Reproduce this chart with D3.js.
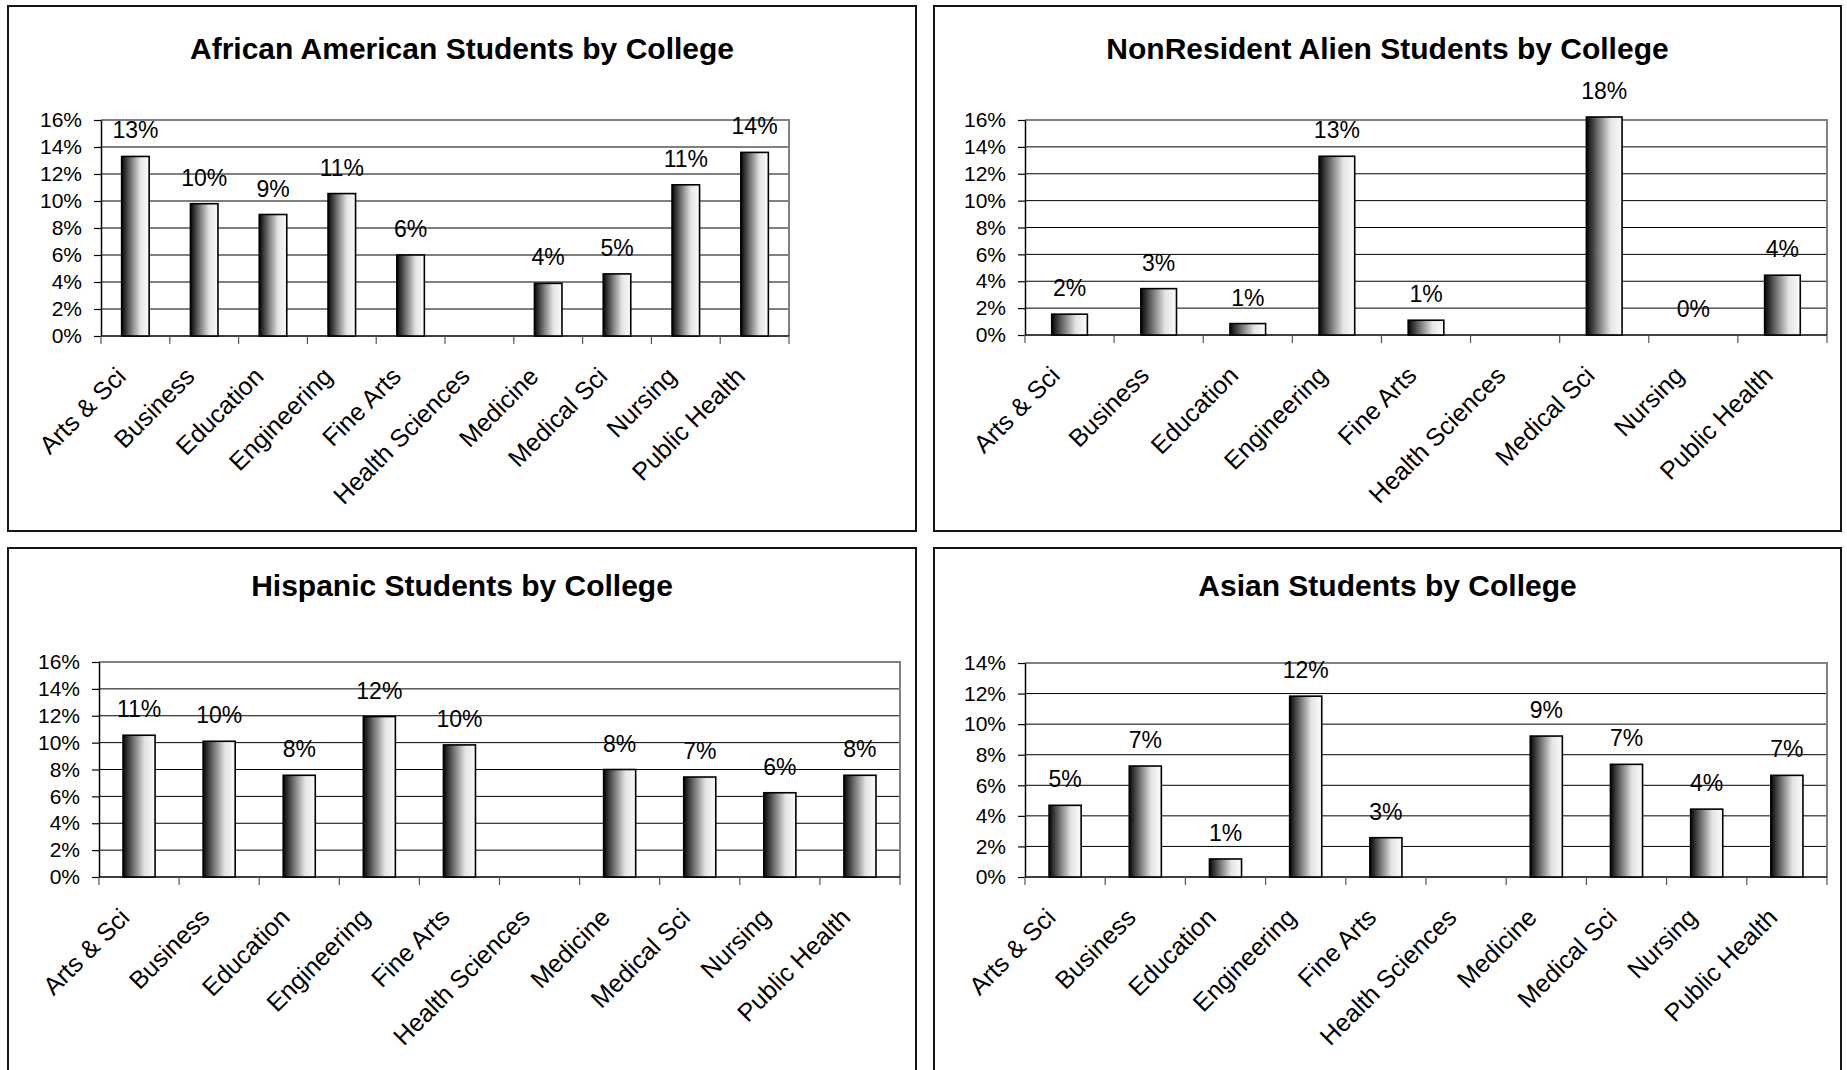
<!DOCTYPE html>
<html>
<head>
<meta charset="utf-8">
<script src="https://cdn.jsdelivr.net/npm/d3@7"></script>
<style>
  body { margin: 0; background: #fff; }
  svg { display: block; }
  text { font-family: "Liberation Sans", Arial, sans-serif; fill: #000; }
</style>
</head>
<body>
<svg id="chart" width="1847" height="1070"></svg>
<script>
'use strict'

// categories
const colleges = ['Arts & Sci', 'Business', 'Education', 'Engineering', 'Fine Arts',
  'Health Sciences', 'Medicine', 'Medical Sci', 'Nursing', 'Public Health']
const collegesNRA = ['Arts & Sci', 'Business', 'Education', 'Engineering', 'Fine Arts',
  'Health Sciences', 'Medical Sci', 'Nursing', 'Public Health']

// percent of students, null = no bar / no label
const africanAmerican = [13.3, 9.8, 9.0, 10.55, 6.0, null, 3.9, 4.6, 11.2, 13.6]
const nonResident = [1.55, 3.45, 0.85, 13.3, 1.1, null, 17.6, 0, 4.45]
const hispanic = [10.55, 10.1, 7.57, 11.94, 9.83, null, 8.0, 7.44, 6.27, 7.57]
const asian = [4.69, 7.26, 1.18, 11.83, 2.57, null, 9.22, 7.37, 4.44, 6.65]

// y tick labels
const ticks16 = [0, 2, 4, 6, 8, 10, 12, 14, 16]
const ticks14 = [0, 2, 4, 6, 8, 10, 12, 14]

const svg = d3.select('#chart')

const grad = svg.append('defs').append('linearGradient')
  .attr('id', 'barGrad')
  .attr('x1', 0).attr('x2', 1).attr('y1', 0).attr('y2', 0)
grad.append('stop').attr('offset', '0%').attr('stop-color', '#050505')
grad.append('stop').attr('offset', '35%').attr('stop-color', '#7a7a7a')
grad.append('stop').attr('offset', '68%').attr('stop-color', '#e4e4e4')
grad.append('stop').attr('offset', '100%').attr('stop-color', '#fbfbfb')

const charts = [
  { title: 'African American Students by College', cats: colleges, values: africanAmerican, ticks: ticks16,
    box: [8, 6, 908, 525], titleY: 59, plot: { left: 101, right: 789, top: 120, bottom: 336 } },
  { title: 'NonResident Alien Students by College', cats: collegesNRA, values: nonResident, ticks: ticks16,
    box: [934, 6, 907, 525], titleY: 59, plot: { left: 1025, right: 1827, top: 120, bottom: 335 } },
  { title: 'Hispanic Students by College', cats: colleges, values: hispanic, ticks: ticks16,
    box: [8, 548, 908, 540], titleY: 596, plot: { left: 99, right: 900, top: 662, bottom: 877 } },
  { title: 'Asian Students by College', cats: colleges, values: asian, ticks: ticks14,
    box: [934, 548, 907, 540], titleY: 596, plot: { left: 1025, right: 1827, top: 663, bottom: 877 } }
]

charts.forEach(drawChart)

function drawChart(cfg) {
  const p = cfg.plot
  const g = svg.append('g')

  g.append('rect')
    .attr('x', cfg.box[0]).attr('y', cfg.box[1])
    .attr('width', cfg.box[2]).attr('height', cfg.box[3])
    .attr('fill', '#fff')
    .attr('stroke', '#151515')
    .attr('stroke-width', 2)

  g.append('text')
    .attr('x', cfg.box[0] + cfg.box[2] / 2)
    .attr('y', cfg.titleY)
    .attr('text-anchor', 'middle')
    .attr('font-size', 30)
    .attr('font-weight', 'bold')
    .text(cfg.title)

  const maxTick = d3.max(cfg.ticks)

  const x = d3.scaleBand()
    .domain(cfg.cats)
    .range([p.left, p.right])
  const xBar = d3.scaleBand()
    .domain(cfg.cats)
    .range([p.left, p.right])
    .paddingInner(0.6)
    .paddingOuter(0.3)
  const y = d3.scaleLinear()
    .domain([0, maxTick])
    .range([p.bottom, p.top])

  // gridlines
  g.append('g').selectAll('line')
    .data(cfg.ticks.filter(t => t > 0 && t < maxTick))
    .enter().append('line')
    .attr('x1', p.left).attr('x2', p.right)
    .attr('y1', d => y(d)).attr('y2', d => y(d))
    .attr('stroke', '#000')
    .attr('stroke-width', 1)

  // plot border, top and right (gray)
  g.append('path')
    .attr('d', `M${p.left},${y(maxTick)}H${p.right}V${p.bottom}`)
    .attr('fill', 'none')
    .attr('stroke', '#808080')
    .attr('stroke-width', 2)

  // y axis
  const yAxis = d3.axisLeft(y)
    .tickValues(cfg.ticks)
    .tickSize(7)
    .tickSizeOuter(0)
    .tickPadding(12)
    .tickFormat(d => d + '%')
  const gy = g.append('g')
    .attr('transform', `translate(${p.left},0)`)
    .call(yAxis)
  gy.select('.domain').attr('stroke', '#000').attr('stroke-width', 1.5)
  gy.selectAll('.tick line').attr('stroke', '#000').attr('stroke-width', 1.2)
  gy.selectAll('.tick text')
    .attr('font-size', 21)
    .attr('font-family', '"Liberation Sans", Arial, sans-serif')
    .attr('fill', '#000')

  // x axis: line + ticks at category boundaries
  g.append('line')
    .attr('x1', p.left).attr('x2', p.right)
    .attr('y1', p.bottom).attr('y2', p.bottom)
    .attr('stroke', '#000')
    .attr('stroke-width', 1.5)
  const bounds = cfg.cats.map(c => x(c)).concat([p.right])
  g.append('g').selectAll('line')
    .data(bounds)
    .enter().append('line')
    .attr('x1', d => d).attr('x2', d => d)
    .attr('y1', p.bottom).attr('y2', p.bottom + 8)
    .attr('stroke', '#555')
    .attr('stroke-width', 1.2)

  g.append('g').selectAll('text')
    .data(cfg.cats)
    .enter().append('text')
    .attr('text-anchor', 'end')
    .attr('font-size', 25)
    .attr('transform', d => `translate(${x(d) + x.bandwidth() / 2 - 8},${p.bottom + 42}) rotate(-45)`)
    .text(d => d)

  // bars
  const rows = cfg.cats.map((c, i) => ({ cat: c, v: cfg.values[i] }))
    .filter(d => d.v !== null)
  const barTop = d => Math.max(y(d.v), p.top - 3)

  g.append('g').selectAll('rect')
    .data(rows.filter(d => d.v > 0))
    .enter().append('rect')
    .attr('x', d => xBar(d.cat))
    .attr('y', d => barTop(d))
    .attr('width', xBar.bandwidth())
    .attr('height', d => p.bottom - barTop(d))
    .attr('fill', 'url(#barGrad)')
    .attr('stroke', '#000')
    .attr('stroke-width', 1.6)

  const fmt = d3.format('.0f')
  g.append('g').selectAll('text')
    .data(rows)
    .enter().append('text')
    .attr('x', d => xBar(d.cat) + xBar.bandwidth() / 2)
    .attr('y', d => barTop(d) - 18)
    .attr('text-anchor', 'middle')
    .attr('font-size', 23)
    .text(d => fmt(d.v) + '%')
}
</script>
</body>
</html>
